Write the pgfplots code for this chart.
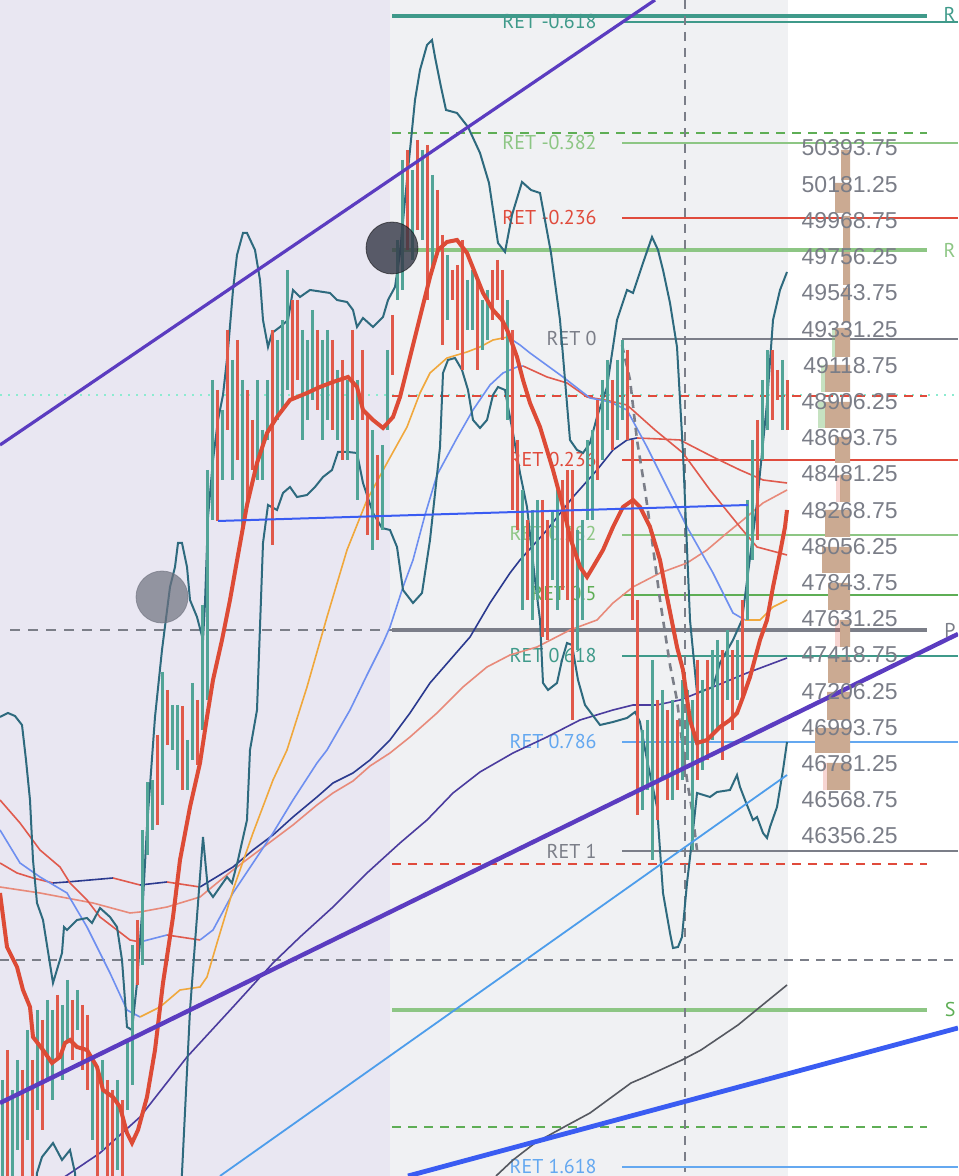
\documentclass[border=0pt]{standalone}
\usepackage{pgfplots}
\pgfplotsset{compat=1.18}
\usepgfplotslibrary{fillbetween}
\usepackage{fontspec}
\setmainfont{Liberation Sans}
\newfontfamily\ptsans{PT Sans}
\definecolor{lav}{HTML}{E9E7F2}
\definecolor{midbg}{HTML}{F0F1F3}
\definecolor{bandfill}{HTML}{9BB4C4}
\definecolor{bandline}{HTML}{2E6A7E}
\definecolor{cg}{HTML}{52A497}
\definecolor{cr}{HTML}{E0594A}
\definecolor{mared}{HTML}{DD4B36}
\definecolor{purp}{HTML}{5B3CC0}
\definecolor{blueT}{HTML}{3A5CF2}
\definecolor{lblue}{HTML}{4D9DEB}
\definecolor{maLB}{HTML}{6E8FF0}
\definecolor{maOR}{HTML}{F0A83C}
\definecolor{maR}{HTML}{E05A4D}
\definecolor{navy}{HTML}{2B3A8F}
\definecolor{indigo}{HTML}{4B3C9E}
\definecolor{salmon}{HTML}{E88A7A}
\definecolor{dgray}{HTML}{555860}
\definecolor{teal}{HTML}{3F9A8A}
\definecolor{lgreen}{HTML}{8DC684}
\definecolor{fred}{HTML}{E04B3C}
\definecolor{fgray}{HTML}{7B7E88}
\definecolor{fgreen}{HTML}{5EAE55}
\definecolor{fblue}{HTML}{64A8F0}
\definecolor{volc}{HTML}{CBAA92}
\definecolor{pricec}{HTML}{7A7D87}
\definecolor{cyanl}{HTML}{8CEBD0}
\definecolor{dcirc}{HTML}{343746}
\definecolor{gcirc}{HTML}{6E717E}
\begin{document}
\begin{tikzpicture}
\begin{axis}[width=479pt,height=588pt,scale only axis,
  xmin=0,xmax=958,ymin=0,ymax=1176,y dir=reverse,
  axis lines=none,ticks=none,clip=true,unbounded coords=jump]
% backgrounds
\addplot[fill=lav,draw=none] coordinates {(0,0)(390,0)(390,1176)(0,1176)};
\addplot[fill=midbg,draw=none] coordinates {(390,0)(788,0)(788,1176)(390,1176)};
% bollinger bands
\addplot[name path=U,draw=none] coordinates {(0,717)(8,713)(15,716)(22,725)(26,760)(30,800)(33,860)(37,903)(43,920)(53,983)(62,953)(64,927)(67,930)(77,920)(87,918)(92,923)(100,908)(110,917)(117,927)(122,960)(127,1027)(132,1030)(137,983)(143,900)(147,827)(155,717)(162,650)(170,587)(175,567)(178,543)(182,543)(187,567)(190,600)(197,617)(203,640)(205,603)(208,517)(213,460)(218,420)(223,395)(228,350)(233,290)(237,255)(243,233)(247,233)(255,250)(260,280)(263,320)(268,347)(272,333)(280,327)(288,320)(293,290)(300,297)(310,290)(330,293)(337,300)(347,302)(353,310)(357,327)(363,318)(373,327)(383,317)(388,300)(395,287)(400,253)(405,200)(410,150)(415,100)(420,70)(427,45)(432,40)(435,57)(441,87)(446,110)(457,113)(468,127)(480,153)(489,183)(498,243)(505,252)(512,215)(522,182)(531,190)(540,193)(551,253)(560,320)(570,440)(577,450)(583,453)(590,443)(597,417)(607,387)(617,320)(627,290)(633,293)(643,263)(652,237)(658,250)(663,270)(670,303)(677,347)(683,453)(690,620)(697,693)(713,687)(720,663)(733,640)(742,620)(757,503)(767,403)(773,320)(780,290)(787,272)};
\addplot[name path=L,draw=none] coordinates {(0,1230)(32,1230)(37,1173)(42,1157)(53,1143)(62,1160)(70,1150)(75,1173)(80,1230)(178,1230)(182,1173)(190,1010)(195,943)(203,837)(208,890)(213,897)(227,877)(232,883)(238,860)(247,820)(250,750)(257,710)(263,543)(268,505)(277,510)(283,493)(290,487)(297,497)(307,495)(315,487)(323,477)(332,470)(338,452)(348,452)(357,453)(363,483)(373,513)(382,528)(390,530)(397,547)(403,590)(413,603)(422,593)(430,540)(440,447)(443,373)(448,360)(455,358)(462,370)(468,390)(473,420)(480,428)(487,420)(493,395)(498,387)(505,390)(508,407)(513,433)(520,473)(527,507)(535,580)(540,620)(543,683)(548,690)(557,683)(562,660)(567,643)(572,645)(578,680)(585,705)(600,725)(613,722)(627,718)(635,712)(640,722)(647,760)(657,807)(663,893)(670,933)(673,948)(678,947)(682,937)(687,883)(692,840)(697,793)(710,797)(717,792)(730,790)(737,775)(740,787)(745,800)(753,820)(757,817)(763,833)(767,838)(770,827)(777,807)(783,770)(787,742)};
\addplot[fill=bandfill,fill opacity=0.13,draw=none] fill between[of=U and L];
% horizontal levels
\addplot[teal,line width=2pt] coordinates {(392,16)(927,16)};
\addplot[teal,line width=0.8pt] coordinates {(622,22)(958,22)};
\addplot[fgreen,line width=0.9pt,dash pattern=on 4.5pt off 3.5pt] coordinates {(392,133)(927,133)};
\addplot[lgreen,line width=0.8pt] coordinates {(622,143)(958,143)};
\addplot[fred,line width=0.9pt] coordinates {(622,218)(958,218)};
\addplot[lgreen,line width=2pt] coordinates {(392,250)(927,250)};
\addplot[fgray,line width=0.8pt] coordinates {(622,339)(958,339)};
\addplot[cyanl,line width=0.8pt,dash pattern=on 1pt off 3pt] coordinates {(0,395)(958,395)};
\addplot[fred,line width=0.9pt,dash pattern=on 4.5pt off 3.5pt] coordinates {(392,396)(927,396)};
\addplot[fred,line width=0.9pt] coordinates {(622,460)(958,460)};
\addplot[lgreen,line width=0.8pt] coordinates {(622,535)(958,535)};
\addplot[fgreen,line width=0.8pt] coordinates {(622,595)(958,595)};
\addplot[fgray,line width=1.8pt] coordinates {(392,630)(927,630)};
\addplot[fgray,line width=1.2pt,dash pattern=on 5pt off 4pt] coordinates {(10,630)(392,630)};
\addplot[teal,line width=0.8pt] coordinates {(622,656)(958,656)};
\addplot[fblue,line width=0.8pt] coordinates {(622,742)(958,742)};
\addplot[fgray,line width=0.8pt] coordinates {(622,851)(958,851)};
\addplot[fred,line width=0.9pt,dash pattern=on 4.5pt off 3.5pt] coordinates {(392,864)(927,864)};
\addplot[fgray,line width=0.9pt,dash pattern=on 4.5pt off 3.5pt] coordinates {(0,960)(958,960)};
\addplot[lgreen,line width=2pt] coordinates {(392,1010)(927,1010)};
\addplot[fgreen,line width=0.9pt,dash pattern=on 4.5pt off 3.5pt] coordinates {(392,1127)(927,1127)};
\addplot[fblue,line width=0.8pt] coordinates {(622,1167)(958,1167)};
\addplot[fgray,line width=0.9pt,dash pattern=on 4.5pt off 3.5pt] coordinates {(685,0)(685,1172)};
% fib labels
\begin{scope}[every node/.style={anchor=east,inner sep=0pt,font=\ptsans\fontsize{10}{12}\selectfont}]
\node[text=teal] at (axis cs:597,22) {RET -0.618};
\node[text=lgreen] at (axis cs:597,143) {RET -0.382};
\node[text=fred] at (axis cs:597,218) {RET -0.236};
\node[text=fgray] at (axis cs:597,339) {RET 0};
\node[text=fred] at (axis cs:597,460) {RET 0.236};
\node[text=lgreen] at (axis cs:597,534) {RET 0.382};
\node[text=fgreen] at (axis cs:597,594) {RET 0.5};
\node[text=teal] at (axis cs:597,656) {RET 0.618};
\node[text=fblue] at (axis cs:597,742) {RET 0.786};
\node[text=fgray] at (axis cs:597,851) {RET 1};
\node[text=fblue] at (axis cs:597,1166) {RET 1.618};
\end{scope}
\begin{scope}[every node/.style={anchor=east,inner sep=0pt,font=\ptsans\fontsize{10}{12}\selectfont}]
\node[text=teal] at (axis cs:956,14) {R};
\node[text=lgreen] at (axis cs:956,250) {R};
\node[text=fgray] at (axis cs:956,630) {P};
\node[text=fgreen] at (axis cs:956,1010) {S};
\end{scope}
% volume profile
\addplot[fill=volc,draw=none] coordinates {(841,150)(850,150)(850,180)(841,180)(841,nan)(835,183)(850,183)(850,213)(835,213)(835,nan)(843,216)(850,216)(850,248)(843,248)(843,nan)(843,252)(850,252)(850,285)(843,285)(843,nan)(843,288)(850,288)(850,322)(843,322)(843,nan)(835,328)(850,328)(850,357)(835,357)(835,nan)(825,365)(850,365)(850,392)(825,392)(825,nan)(825,402)(850,402)(850,428)(825,428)(825,nan)(835,437)(850,437)(850,463)(835,463)(835,nan)(840,475)(850,475)(850,502)(840,502)(840,nan)(825,510)(850,510)(850,537)(825,537)(825,nan)(822,547)(850,547)(850,573)(822,573)(822,nan)(828,583)(850,583)(850,610)(828,610)(828,nan)(840,620)(850,620)(850,647)(840,647)(840,nan)(828,657)(850,657)(850,683)(828,683)(828,nan)(827,692)(850,692)(850,720)(827,720)(827,nan)(815,728)(850,728)(850,753)(815,753)(815,nan)(827,763)(850,763)(850,790)(827,790)};
\addplot[fill=lgreen,fill opacity=0.5,draw=none] coordinates {(832,328)(835,328)(835,357)(832,357)(832,nan)(821,365)(825,365)(825,392)(821,392)(821,nan)(818,402)(825,402)(825,428)(818,428)};
\addplot[fill=cr,fill opacity=0.25,draw=none] coordinates {(836,475)(840,475)(840,502)(836,502)(836,nan)(835,620)(840,620)(840,647)(835,647)(835,nan)(823,763)(827,763)(827,790)(823,790)};
% moving averages
\addplot[dgray,line width=0.8pt] coordinates {(496,1176)(513,1160)(535,1143)(564,1127)(590,1113)(631,1083)(645,1077)(682,1060)(701,1050)(738,1025)(760,1007)(787,985)};
\addplot[indigo,line width=0.8pt] coordinates {(60,1180)(100,1153)(140,1117)(187,1057)(233,1007)(273,963)(300,937)(333,907)(367,873)(400,843)(427,820)(453,793)(480,772)(513,753)(547,737)(580,720)(613,710)(633,705)(657,705)(680,700)(713,687)(747,673)(787,658)};
\addplot[salmon,line width=0.8pt] coordinates {(0,887)(40,893)(93,903)(130,913)(140,912)(167,907)(200,897)(217,883)(233,870)(253,855)(273,840)(293,825)(317,805)(333,793)(353,781)(370,766)(390,753)(410,737)(437,713)(463,687)(487,667)(510,655)(537,647)(570,630)(597,620)(613,603)(633,587)(660,573)(687,563)(707,550)(727,533)(743,520)(763,503)(787,490)};
\addplot[maR,line width=0.8pt] coordinates {(0,863)(17,873)(33,878)(53,883)};
\addplot[navy,line width=0.8pt] coordinates {(53,883)(67,882)(113,878)};
\addplot[maR,line width=0.8pt] coordinates {(113,878)(140,885)};
\addplot[navy,line width=0.8pt] coordinates {(140,885)(167,882)};
\addplot[maR,line width=0.8pt] coordinates {(167,882)(200,887)};
\addplot[navy,line width=0.8pt] coordinates {(200,887)(233,867)(253,850)(273,835)(293,817)(317,797)(333,783)(353,773)(370,760)(390,740)(410,713)(430,683)(450,660)(470,637)(490,603)(510,573)(520,560)(547,530)(573,497)(597,470)(613,450)(627,440)(637,438)};
\addplot[maR,line width=0.8pt] coordinates {(637,438)(660,439)(680,440)(713,457)(740,470)(763,480)(787,483)};
\addplot[maR,line width=0.8pt] coordinates {(0,800)(20,823)(40,850)(60,867)(70,883)(87,900)(100,917)(117,930)(130,940)(140,942)};
\addplot[maLB,line width=0.8pt] coordinates {(140,942)(167,935)};
\addplot[maR,line width=0.8pt] coordinates {(167,935)(200,940)};
\addplot[maLB,line width=0.8pt] coordinates {(200,940)(213,930)(233,893)(253,863)(273,833)(293,800)(317,763)(327,750)(350,710)(367,675)(383,643)(390,627)(403,587)(413,560)(425,515)(437,475)(457,438)(473,410)(490,385)(503,373)(517,367)(523,366)};
\addplot[maR,line width=0.8pt] coordinates {(523,366)(547,377)(567,383)(587,397)(605,400)(627,405)(655,430)(683,453)(710,490)(740,527)(757,547)(787,555)};
\addplot[maLB,line width=0.8pt] coordinates {(0,830)(20,863)(40,877)(67,893)(87,927)(110,973)(127,1010)(140,1017)};
\addplot[maOR,line width=0.8pt] coordinates {(140,1017)(160,1007)(180,990)(200,987)(207,977)(217,943)(233,890)(253,833)(273,780)(287,750)(307,687)(327,617)(347,550)(367,500)(387,463)(407,427)(420,393)(430,373)(447,358)(467,352)(480,347)(493,340)(508,337)};
\addplot[maLB,line width=0.8pt] coordinates {(508,337)(520,345)(530,353)(563,377)(590,398)(610,402)(627,410)(647,447)(667,487)(687,527)(713,573)(733,613)(745,620)};
\addplot[maOR,line width=0.8pt] coordinates {(745,620)(760,620)(773,607)(787,600)};
% dashed curve
\addplot[fgray,line width=1.3pt,dash pattern=on 4pt off 3pt] coordinates {(622,345)(630,380)(637,440)(645,490)(652,540)(660,600)(670,665)(677,700)(683,750)(687,780)(692,810)(697,850)};
% band lines
\addplot[bandline,line width=1pt] coordinates {(0,717)(8,713)(15,716)(22,725)(26,760)(30,800)(33,860)(37,903)(43,920)(53,983)(62,953)(64,927)(67,930)(77,920)(87,918)(92,923)(100,908)(110,917)(117,927)(122,960)(127,1027)(132,1030)(137,983)(143,900)(147,827)(155,717)(162,650)(170,587)(175,567)(178,543)(182,543)(187,567)(190,600)(197,617)(203,640)(205,603)(208,517)(213,460)(218,420)(223,395)(228,350)(233,290)(237,255)(243,233)(247,233)(255,250)(260,280)(263,320)(268,347)(272,333)(280,327)(288,320)(293,290)(300,297)(310,290)(330,293)(337,300)(347,302)(353,310)(357,327)(363,318)(373,327)(383,317)(388,300)(395,287)(400,253)(405,200)(410,150)(415,100)(420,70)(427,45)(432,40)(435,57)(441,87)(446,110)(457,113)(468,127)(480,153)(489,183)(498,243)(505,252)(512,215)(522,182)(531,190)(540,193)(551,253)(560,320)(570,440)(577,450)(583,453)(590,443)(597,417)(607,387)(617,320)(627,290)(633,293)(643,263)(652,237)(658,250)(663,270)(670,303)(677,347)(683,453)(690,620)(697,693)(713,687)(720,663)(733,640)(742,620)(757,503)(767,403)(773,320)(780,290)(787,272)};
\addplot[bandline,line width=1pt] coordinates {(32,1230)(37,1173)(42,1157)(53,1143)(62,1160)(70,1150)(75,1173)(80,1230)(178,1230)(182,1173)(190,1010)(195,943)(203,837)(208,890)(213,897)(227,877)(232,883)(238,860)(247,820)(250,750)(257,710)(263,543)(268,505)(277,510)(283,493)(290,487)(297,497)(307,495)(315,487)(323,477)(332,470)(338,452)(348,452)(357,453)(363,483)(373,513)(382,528)(390,530)(397,547)(403,590)(413,603)(422,593)(430,540)(440,447)(443,373)(448,360)(455,358)(462,370)(468,390)(473,420)(480,428)(487,420)(493,395)(498,387)(505,390)(508,407)(513,433)(520,473)(527,507)(535,580)(540,620)(543,683)(548,690)(557,683)(562,660)(567,643)(572,645)(578,680)(585,705)(600,725)(613,722)(627,718)(635,712)(640,722)(647,760)(657,807)(663,893)(670,933)(673,948)(678,947)(682,937)(687,883)(692,840)(697,793)(710,797)(717,792)(730,790)(737,775)(740,787)(745,800)(753,820)(757,817)(763,833)(767,838)(770,827)(777,807)(783,770)(787,742)};
% candles
\addplot[cg,line width=1.5pt] coordinates {(2,1080)(2,1176)(2,nan)(12,1090)(12,1176)(12,nan)(17,1060)(17,1150)(17,nan)(27,1030)(27,1140)(27,nan)(37,1010)(37,1110)(37,nan)(47,1000)(47,1080)(47,nan)(52,1010)(52,1100)(52,nan)(62,1005)(62,1080)(62,nan)(67,980)(67,1040)(67,nan)(77,990)(77,1030)(77,nan)(92,1060)(92,1140)(92,nan)(102,1060)(102,1150)(102,nan)(117,1080)(117,1170)(117,nan)(127,1040)(127,1110)(127,nan)(132,945)(132,1085)(132,nan)(142,830)(142,965)(142,nan)(147,782)(147,855)(147,nan)(152,780)(152,830)(152,nan)(162,672)(162,805)(162,nan)(172,705)(172,750)(172,nan)(177,705)(177,770)(177,nan)(187,740)(187,790)(187,nan)(192,683)(192,760)(192,nan)(202,605)(202,730)(202,nan)(207,470)(207,700)(207,nan)(212,380)(212,520)(212,nan)(222,410)(222,480)(222,nan)(232,360)(232,480)(232,nan)(242,380)(242,530)(242,nan)(257,380)(257,480)(257,nan)(262,430)(262,480)(262,nan)(267,380)(267,440)(267,nan)(277,340)(277,420)(277,nan)(282,320)(282,410)(282,nan)(287,270)(287,390)(287,nan)(302,330)(302,440)(302,nan)(307,340)(307,420)(307,nan)(312,310)(312,400)(312,nan)(322,340)(322,440)(322,nan)(327,330)(327,420)(327,nan)(337,370)(337,440)(337,nan)(347,380)(347,460)(347,nan)(357,380)(357,500)(357,nan)(372,430)(372,550)(372,nan)(382,445)(382,530)(382,nan)(387,350)(387,430)(387,nan)(397,240)(397,300)(397,nan)(402,160)(402,290)(402,nan)(412,170)(412,260)(412,nan)(422,150)(422,240)(422,nan)(432,175)(432,270)(432,nan)(447,255)(447,320)(447,nan)(467,280)(467,330)(467,nan)(472,270)(472,330)(472,nan)(482,300)(482,350)(482,nan)(487,290)(487,340)(487,nan)(507,300)(507,420)(507,nan)(522,490)(522,610)(522,nan)(532,510)(532,620)(532,nan)(537,500)(537,600)(537,nan)(552,510)(552,580)(552,nan)(557,490)(557,610)(557,nan)(577,530)(577,650)(577,nan)(582,520)(582,620)(582,nan)(587,440)(587,520)(587,nan)(592,430)(592,520)(592,nan)(602,380)(602,460)(602,nan)(607,360)(607,430)(607,nan)(617,360)(617,440)(617,nan)(622,340)(622,420)(622,nan)(642,730)(642,810)(642,nan)(647,720)(647,790)(647,nan)(652,660)(652,860)(652,nan)(662,690)(662,780)(662,nan)(672,700)(672,800)(672,nan)(682,680)(682,780)(682,nan)(687,690)(687,760)(687,nan)(692,700)(692,850)(692,nan)(702,680)(702,770)(702,nan)(712,650)(712,740)(712,nan)(717,640)(717,730)(717,nan)(727,630)(727,700)(727,nan)(737,640)(737,700)(737,nan)(747,500)(747,620)(747,nan)(752,440)(752,560)(752,nan)(762,380)(762,460)(762,nan)(767,350)(767,430)(767,nan)(782,360)(782,430)};
\addplot[cr,line width=1.5pt] coordinates {(7,1050)(7,1176)(7,nan)(22,1070)(22,1176)(22,nan)(32,1060)(32,1176)(32,nan)(42,1020)(42,1130)(42,nan)(57,995)(57,1060)(57,nan)(72,1000)(72,1060)(72,nan)(82,1005)(82,1070)(82,nan)(87,1015)(87,1090)(87,nan)(97,1070)(97,1176)(97,nan)(107,1080)(107,1176)(107,nan)(112,1090)(112,1176)(112,nan)(122,1100)(122,1176)(122,nan)(137,920)(137,985)(137,nan)(157,735)(157,825)(157,nan)(167,690)(167,745)(167,nan)(182,706)(182,790)(182,nan)(197,700)(197,765)(197,nan)(217,390)(217,521)(217,nan)(227,330)(227,430)(227,nan)(237,340)(237,460)(237,nan)(247,390)(247,500)(247,nan)(252,420)(252,470)(252,nan)(272,330)(272,545)(272,nan)(292,300)(292,400)(292,nan)(297,300)(297,380)(297,nan)(317,330)(317,410)(317,nan)(332,340)(332,430)(332,nan)(342,360)(342,460)(342,nan)(352,330)(352,420)(352,nan)(362,350)(362,420)(362,nan)(367,415)(367,535)(367,nan)(377,455)(377,540)(377,nan)(392,315)(392,375)(392,nan)(407,150)(407,250)(407,nan)(417,140)(417,230)(417,nan)(427,145)(427,300)(427,nan)(437,190)(437,250)(437,nan)(442,235)(442,345)(442,nan)(452,270)(452,300)(452,nan)(457,265)(457,350)(457,nan)(462,240)(462,370)(462,nan)(477,280)(477,370)(477,nan)(492,270)(492,320)(492,nan)(497,260)(497,300)(497,nan)(502,270)(502,340)(502,nan)(512,330)(512,510)(512,nan)(517,440)(517,530)(517,nan)(527,520)(527,600)(527,nan)(542,500)(542,637)(542,nan)(547,520)(547,640)(547,nan)(562,480)(562,590)(562,nan)(567,470)(567,600)(567,nan)(572,470)(572,720)(572,nan)(597,400)(597,480)(597,nan)(612,380)(612,450)(612,nan)(627,350)(627,440)(627,nan)(632,440)(632,620)(632,nan)(637,600)(637,815)(637,nan)(657,700)(657,820)(657,nan)(667,710)(667,800)(667,nan)(677,720)(677,790)(677,nan)(697,660)(697,780)(697,nan)(707,660)(707,760)(707,nan)(722,650)(722,760)(722,nan)(732,650)(732,730)(732,nan)(742,600)(742,700)(742,nan)(757,420)(757,540)(757,nan)(772,350)(772,420)(772,nan)(777,370)(777,400)(777,nan)(787,380)(787,430)};
% thick MA
\addplot[mared,line width=2pt] coordinates {(0,893)(7,947)(17,967)(23,990)(30,1007)(33,1037)(43,1050)(52,1063)(60,1057)(65,1043)(70,1040)(77,1047)(87,1050)(97,1067)(103,1090)(113,1097)(120,1107)(127,1133)(132,1143)(138,1130)(147,1097)(155,1050)(163,983)(173,917)(180,860)(190,807)(200,763)(207,717)(213,680)(222,640)(230,600)(238,555)(247,505)(257,463)(267,433)(277,417)(290,400)(307,393)(320,387)(333,382)(348,377)(357,387)(363,410)(373,420)(383,428)(393,417)(400,397)(410,357)(420,317)(430,277)(438,250)(447,242)(457,240)(467,253)(475,273)(483,293)(493,310)(502,320)(508,332)(517,357)(523,380)(530,403)(540,427)(553,470)(563,507)(570,537)(580,567)(587,577)(593,567)(603,550)(613,527)(623,507)(633,500)(640,507)(650,527)(660,560)(667,597)(677,647)(683,670)(690,720)(697,743)(707,740)(720,727)(730,720)(737,713)(743,697)(750,677)(760,640)(767,620)(773,587)(780,553)(785,527)(787,510)};
% trend lines
\addplot[purp,line width=1.6pt] coordinates {(0,445)(655,0)};
\addplot[purp,line width=2.2pt] coordinates {(0,1103)(958,634)};
\addplot[blueT,line width=1pt] coordinates {(218,521)(748,505)};
\addplot[lblue,line width=0.9pt] coordinates {(220,1176)(787,775)};
\addplot[blueT,line width=2.4pt] coordinates {(408,1176)(958,1028)};
% circles
\addplot[only marks,mark=*,mark size=13pt,mark options={fill=dcirc,draw=black,fill opacity=0.8,draw opacity=0.5}] coordinates {(392,248)};
\addplot[only marks,mark=*,mark size=13pt,mark options={fill=gcirc,draw=gcirc,fill opacity=0.7,draw opacity=0.6}] coordinates {(162,597)};
% price scale
\begin{scope}[every node/.style={anchor=east,inner sep=0pt,text=pricec,font=\fontsize{11.5}{13}\selectfont}]
\node at (axis cs:898,148) {50393.75};
\node at (axis cs:898,184.2) {50181.25};
\node at (axis cs:898,220.4) {49968.75};
\node at (axis cs:898,256.6) {49756.25};
\node at (axis cs:898,292.8) {49543.75};
\node at (axis cs:898,329.1) {49331.25};
\node at (axis cs:898,365.3) {49118.75};
\node at (axis cs:898,401.5) {48906.25};
\node at (axis cs:898,437.7) {48693.75};
\node at (axis cs:898,473.9) {48481.25};
\node at (axis cs:898,510.1) {48268.75};
\node at (axis cs:898,546.3) {48056.25};
\node at (axis cs:898,582.5) {47843.75};
\node at (axis cs:898,618.7) {47631.25};
\node at (axis cs:898,654.9) {47418.75};
\node at (axis cs:898,691.2) {47206.25};
\node at (axis cs:898,727.4) {46993.75};
\node at (axis cs:898,763.6) {46781.25};
\node at (axis cs:898,799.8) {46568.75};
\node at (axis cs:898,836) {46356.25};
\end{scope}
\end{axis}
\pgfresetboundingbox
\path[use as bounding box] (current axis.south west) rectangle (current axis.north east);
\end{tikzpicture}
\end{document}
